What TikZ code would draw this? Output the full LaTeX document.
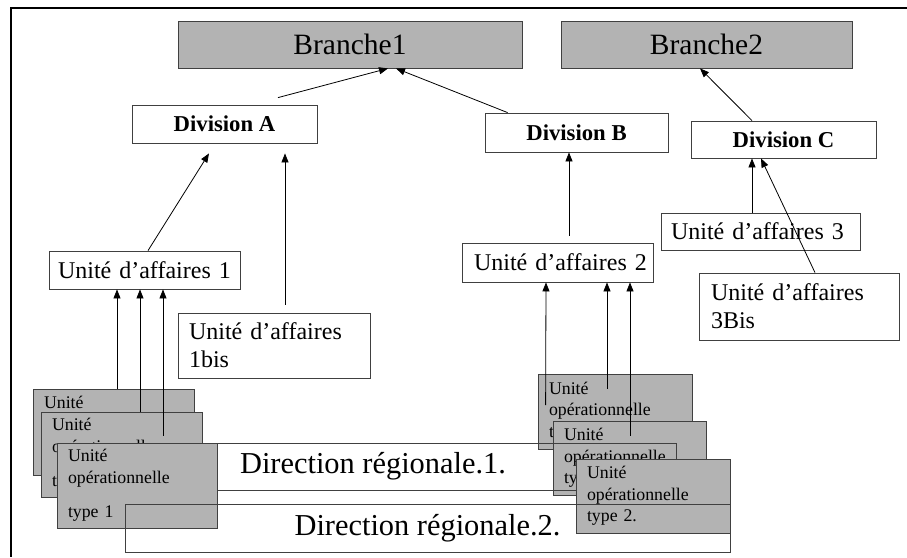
\documentclass[tikz,border=0pt]{standalone}
\usepackage{fontspec}
\setmainfont{Liberation Serif}
\usepackage{xcolor}
\usetikzlibrary{arrows.meta}
\definecolor{boxgrey}{RGB}{179,179,179}

\begin{document}
\begin{tikzpicture}[x=1pt,y=-1pt,
  box/.style={draw=black!75,line width=0.8pt,inner sep=0pt},
  branche/.style={box,fill=boxgrey,font=\fontsize{29.5}{34}\selectfont},
  division/.style={box,fill=white,font=\fontsize{22.7}{26}\selectfont\bfseries},
  affaires/.style={box,fill=white,inner xsep=10pt,align=left,font=\fontsize{24}{28}\selectfont},
  unite/.style={box,fill=boxgrey,inner xsep=11pt,align=left,font=\fontsize{17.8}{21.5}\selectfont},
  direction/.style={box,font=\fontsize{30.4}{34}\selectfont},
  fleche/.style={-{Triangle[length=9pt,width=7pt]},line width=0.8pt}]
  \useasboundingbox (0,0) rectangle (907,557);
  \draw[line width=1.6pt] (907,8) -- (11,8) -- (11,557);

  \node[branche,minimum width=344pt,minimum height=47pt] (b1) at (350,44.5) {Branche1};
  \node[branche,minimum width=291pt,minimum height=47pt] (b2) at (706.5,44.5) {Branche2};
  \node[division,minimum width=185pt,minimum height=38pt] (divA) at (224.5,124) {Division A};
  \node[division,minimum width=183pt,minimum height=39pt] (divB) at (576.5,132.5) {Division B};
  \node[division,minimum width=185pt,minimum height=37pt] (divC) at (783.5,139.5) {Division C};
  \node[affaires,inner xsep=9pt,text width=173pt,minimum height=38pt] (ua1) at (144.5,270) {\mbox{Unité d'affaires 1}};
  \node[affaires,inner xsep=11pt,text width=170pt,minimum height=65pt] (ua1b) at (274,345.5) {Unité d'affaires\\1bis};
  \node[affaires,inner xsep=12pt,text width=167pt,minimum height=39pt] (ua2) at (557.5,262.5) {\mbox{Unité d'affaires 2}};
  \node[affaires,text width=179pt,minimum height=37pt] (ua3) at (760.5,231.5) {\mbox{Unité d'affaires 3}};
  \node[affaires,inner xsep=12pt,text width=176pt,minimum height=67pt] (ua3b) at (799,306.5) {Unité d'affaires\\3Bis};

  \node[unite,text width=132pt,minimum height=75pt] (uoB1) at (615,411.5) {Unité\\opérationnelle\\type 2.};
  \node[unite,text width=131pt,minimum height=74pt] (uoB2) at (629.5,458) {Unité\\opérationnelle\\type 2.};
  \node[direction,minimum width=606pt,minimum height=47pt] (dr1) at (373,466.5) {Direction régionale.1.};
  \node[unite,text width=139pt,minimum height=86pt] (uoA1) at (113.5,432) {Unité\\opérationnelle\\[13pt]type 1};
  \node[unite,text width=139pt,minimum height=85pt] (uoA2) at (121.5,454.5) {Unité\\opérationnelle\\[13pt]type 1};
  \node[unite,text width=138pt,minimum height=85pt] (uoA3) at (137,485.5) {Unité\\opérationnelle\\[13pt]type 1};
  \node[unite,text width=132pt,minimum height=74pt] (uoB3) at (653,496) {Unité\\opérationnelle\\type 2.};
  \node[direction,minimum width=605pt,minimum height=48pt] (dr2) at (427.5,528) {Direction régionale.2.};

  \draw[fleche] ([xshift=53.5pt,yshift=7pt]divA.north) -- ([xshift=38pt]b1.south);
  \draw[fleche] ([xshift=23pt]divB.north west) -- ([xshift=46pt]b1.south);
  \draw[fleche] ([xshift=-31.5pt]divC.north) -- ([xshift=-6.5pt]b2.south);
  \draw[fleche] ([xshift=3.5pt]ua1.north) -- ([xshift=-15.5pt,yshift=-10pt]divA.south);
  \draw[fleche] ([xshift=11pt,yshift=8pt]ua1b.north) -- ([xshift=60.5pt,yshift=-10pt]divA.south);
  \draw[fleche] ([xshift=11.5pt,yshift=7pt]ua2.north) -- ([xshift=-7.5pt]divB.south);
  \draw[fleche] ([xshift=-8.5pt]ua3.north) -- ([xshift=-31.5pt]divC.south);
  \draw[fleche] ([xshift=16pt]ua3b.north) -- ([xshift=-22.5pt]divC.south);

  \draw[fleche] ([xshift=3.5pt]uoA1.north) -- ([xshift=-27.5pt]ua1.south);
  \draw[fleche] ([xshift=18.5pt]uoA2.north) -- ([xshift=-4.5pt]ua1.south);
  \draw[fleche] ([xshift=26pt,yshift=7pt]uoA3.north) -- ([xshift=18.5pt]ua1.south);
  \draw[fleche] ([xshift=8pt,yshift=6.5pt]uoB1.west) -- ([xshift=-11.5pt]ua2.south);
  \draw[fleche] ([xshift=-8pt,yshift=-15pt]uoB1.north) -- ([xshift=49.5pt]ua2.south);
  \draw[fleche] ([xshift=0.5pt,yshift=-15pt]uoB2.north) -- ([xshift=72.5pt]ua2.south);
\end{tikzpicture}
\end{document}
